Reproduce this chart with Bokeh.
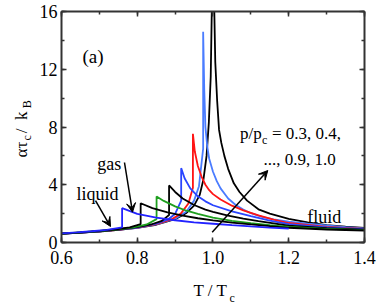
from math import pi
from bokeh.plotting import figure
from bokeh.models import (Range1d, LinearAxis, SingleIntervalTicker, PrintfTickFormatter,
                          CustomJSTickFormatter, Label, Arrow, VeeHead)
from bokeh.embed import file_html
from bokeh.resources import INLINE

# ---- data (T/Tc, alpha*tau_c/k_B) ----
pressures = ["0.3", "0.4", "0.5", "0.6", "0.7", "0.8", "0.9", "1.0"]
colors = ["#2222ff", "#000000", "#1f9f1f", "#000000", "#2a45ff", "#ff1515", "#4a7cff", "#000000"]

T_liq_03 = [0.60, 0.64, 0.68, 0.72, 0.76]
a_liq_03 = [0.63, 0.70, 0.78, 0.88, 1.05]
T_gas_03 = [0.76, 0.80, 0.85, 0.90, 0.95, 1.00, 1.05, 1.10, 1.15, 1.20]
a_gas_03 = [2.38, 1.98, 1.72, 1.54, 1.40, 1.30, 1.20, 1.11, 1.03, 0.96]

T_liq_04 = [0.60, 0.65, 0.70, 0.74, 0.78, 0.809]
a_liq_04 = [0.62, 0.70, 0.80, 0.90, 1.05, 1.28]
T_gas_04 = [0.809, 0.84, 0.88, 0.92, 0.96, 1.00, 1.05, 1.10, 1.15, 1.20, 1.30, 1.40]
a_gas_04 = [2.72, 2.38, 2.08, 1.86, 1.68, 1.53, 1.38, 1.25, 1.13, 1.02, 0.90, 0.83]

T_liq_05 = [0.60, 0.65, 0.70, 0.75, 0.79, 0.825, 0.851]
a_liq_05 = [0.62, 0.70, 0.79, 0.91, 1.05, 1.25, 1.62]
T_gas_05 = [0.851, 0.87, 0.90, 0.93, 0.96, 1.00, 1.05, 1.10, 1.15, 1.20, 1.30, 1.40]
a_gas_05 = [3.19, 2.88, 2.50, 2.20, 1.98, 1.72, 1.50, 1.34, 1.20, 1.08, 0.95, 0.86]

T_liq_06 = [0.60, 0.65, 0.70, 0.75, 0.80, 0.84, 0.865, 0.884]
a_liq_06 = [0.61, 0.69, 0.78, 0.90, 1.06, 1.28, 1.50, 1.90]
T_gas_06 = [0.884, 0.90, 0.92, 0.95, 0.98, 1.00, 1.04, 1.08, 1.12, 1.16, 1.20, 1.30, 1.40]
a_gas_06 = [3.95, 3.50, 3.05, 2.60, 2.28, 2.12, 1.86, 1.66, 1.48, 1.32, 1.16, 0.99, 0.89]

T_liq_07 = [0.60, 0.65, 0.70, 0.75, 0.80, 0.85, 0.88, 0.90, 0.916]
a_liq_07 = [0.61, 0.69, 0.78, 0.89, 1.04, 1.30, 1.58, 1.98, 2.90]
T_gas_07 = [0.916, 0.925, 0.94, 0.96, 0.98, 1.00, 1.05, 1.10, 1.15, 1.20, 1.30, 1.40]
a_gas_07 = [5.15, 4.45, 3.75, 3.20, 2.85, 2.58, 2.15, 1.82, 1.52, 1.27, 1.04, 0.92]

T_liq_08 = [0.60, 0.65, 0.70, 0.75, 0.80, 0.85, 0.89, 0.915, 0.935, 0.947]
a_liq_08 = [0.61, 0.68, 0.77, 0.88, 1.03, 1.27, 1.60, 2.00, 2.70, 3.80]
T_gas_08 = [0.947, 0.952, 0.96, 0.97, 0.98, 0.99, 1.00, 1.02, 1.05, 1.08, 1.12, 1.16, 1.20, 1.30, 1.40]
a_gas_08 = [7.53, 6.30, 5.30, 4.55, 4.00, 3.62, 3.35, 2.98, 2.55, 2.22, 1.88, 1.58, 1.35, 1.08, 0.95]

T_liq_09 = [0.60, 0.65, 0.70, 0.75, 0.80, 0.85, 0.90, 0.93, 0.95, 0.963, 0.974]
a_liq_09 = [0.60, 0.68, 0.77, 0.88, 1.02, 1.25, 1.65, 2.15, 2.90, 3.90, 6.50]
T_gas_09 = [0.974, 0.977, 0.98, 0.985, 0.99, 1.00, 1.01, 1.02, 1.04, 1.06, 1.08, 1.10, 1.13, 1.16, 1.20, 1.25, 1.30, 1.35, 1.40]
a_gas_09 = [14.6, 10.5, 8.0, 6.6, 5.8, 4.9, 4.25, 3.75, 3.05, 2.6, 2.28, 2.03, 1.78, 1.6, 1.45, 1.3, 1.18, 1.07, 0.98]

T_liq_10 = [0.60, 0.65, 0.70, 0.75, 0.80, 0.85, 0.90, 0.93, 0.95, 0.965, 0.975, 0.983, 0.989, 0.994, 0.998]
a_liq_10 = [0.60, 0.68, 0.76, 0.87, 1.01, 1.23, 1.62, 2.05, 2.55, 3.30, 4.40, 6.00, 8.30, 11.5, 18.0]
T_gas_10 = [1.002, 1.006, 1.011, 1.016, 1.022, 1.03, 1.04, 1.055, 1.07, 1.09, 1.12, 1.15, 1.20, 1.25, 1.30, 1.35, 1.40]
a_gas_10 = [18.0, 12.5, 9.8, 7.8, 6.9, 6.0, 5.1, 4.1, 3.5, 2.9, 2.3, 2.0, 1.64, 1.4, 1.2, 1.1, 1.02]

x_ticks_interval = 0.2
y_ticks_interval = 4

FONT = "Liberation Serif"
AX = "#333333"
NB = "\u00a0"

p = figure(width=381, height=307, x_range=Range1d(0.6, 1.4000001), y_range=Range1d(0, 16),
           output_backend="svg", toolbar_location=None,
           min_border_left=61, min_border_right=17, min_border_top=11, min_border_bottom=65)
p.xgrid.visible = False
p.ygrid.visible = False
p.outline_line_color = None
p.background_fill_color = "white"
p.border_fill_color = "white"

def style_axis(ax, ticker, labels=True, fmt=None):
    ax.ticker = ticker
    ax.axis_line_color = AX
    ax.axis_line_width = 2
    ax.major_tick_line_color = AX
    ax.minor_tick_line_color = AX
    ax.major_tick_line_width = 1.5
    ax.minor_tick_line_width = 1.5
    ax.major_tick_in = 5
    ax.major_tick_out = 0
    ax.minor_tick_in = 3
    ax.minor_tick_out = 0
    if labels:
        ax.major_label_text_font = FONT
        ax.major_label_text_font_size = "18px"
        ax.major_label_text_color = "black"
        if fmt is not None:
            ax.formatter = fmt
    else:
        ax.formatter = CustomJSTickFormatter(code="return ''")
        ax.major_label_standoff = 0
        ax.major_label_text_font_size = "0px"

style_axis(p.xaxis[0], SingleIntervalTicker(interval=x_ticks_interval, num_minor_ticks=2),
           fmt=PrintfTickFormatter(format="%.1f"))
p.xaxis[0].major_label_standoff = 8
style_axis(p.yaxis[0], SingleIntervalTicker(interval=y_ticks_interval, num_minor_ticks=2))
p.yaxis[0].major_label_standoff = 4

top = LinearAxis()
style_axis(top, SingleIntervalTicker(interval=x_ticks_interval, num_minor_ticks=2), labels=False)
p.add_layout(top, "above")
right = LinearAxis()
style_axis(right, SingleIntervalTicker(interval=y_ticks_interval, num_minor_ticks=2), labels=False)
p.add_layout(right, "right")

curves = [
    (T_liq_03 + T_gas_03, a_liq_03 + a_gas_03),
    (T_liq_04 + T_gas_04, a_liq_04 + a_gas_04),
    (T_liq_05 + T_gas_05, a_liq_05 + a_gas_05),
    (T_liq_06 + T_gas_06, a_liq_06 + a_gas_06),
    (T_liq_07 + T_gas_07, a_liq_07 + a_gas_07),
    (T_liq_08 + T_gas_08, a_liq_08 + a_gas_08),
    (T_liq_09 + T_gas_09, a_liq_09 + a_gas_09),
    (T_liq_10 + T_gas_10, a_liq_10 + a_gas_10),
]
for (T, a), c in reversed(list(zip(curves, colors))):
    p.line(T, a, line_color=c, line_width=1.8)

def mk(x, y, text, size="18px", angle=0, units="data"):
    return Label(x=x, y=y, x_units=units, y_units=units, text=text, text_font=FONT,
                 text_font_size=size, text_color="black", angle=angle,
                 text_align="left", text_baseline="alphabetic")

def lab(x, y, text, size="18px", angle=0, units="data", place="center"):
    p.add_layout(mk(x, y, text, size, angle, units), place)

# panel letter and annotations (data coordinates)
lab(0.6554, 12.88, "(a)", size="19px")
lab(0.6396, 3.39, "liquid")
lab(0.6943, 5.47, "gas")
lab(1.2487, 1.75, "fluid")
lab(1.0713, 7.55, "p/p", size="17px")
lab(1.1291, 7.13, "c", size="12px")
lab(1.1555, 7.55, "= 0.3, 0.4,", size="17px")
lab(1.1333, 5.75, "..., 0.9, 1.0", size="17px")

# axis titles with subscripts, placed in the side panels (canvas pixel positions)
lab(193, 290, "T / T", size="17px", units="canvas", place="below")
lab(229, 297, "c", size="12px", units="canvas", place="below")
lab(21, 157, "ατ" + NB * 2 + "/" + NB * 2 + "k", size="17px", angle=pi / 2,
    units="canvas", place="left")
lab(26.5, 140, "c" + NB * 9 + "B", size="12px", angle=pi / 2, units="canvas", place="left")

def arrow(x0, y0, x1, y1):
    p.add_layout(Arrow(x_start=x0, y_start=y0, x_end=x1, y_end=y1, line_color="black",
                       line_width=1.5,
                       end=VeeHead(size=9, fill_color="black", line_color="black", line_width=1)))

arrow(0.6898, 2.909, 0.7294, 1.108)
arrow(0.7663, 5.541, 0.7875, 2.10)
arrow(0.9979, 0.713, 1.1447, 4.987)

open("out.html", "w").write(file_html(p, INLINE))
